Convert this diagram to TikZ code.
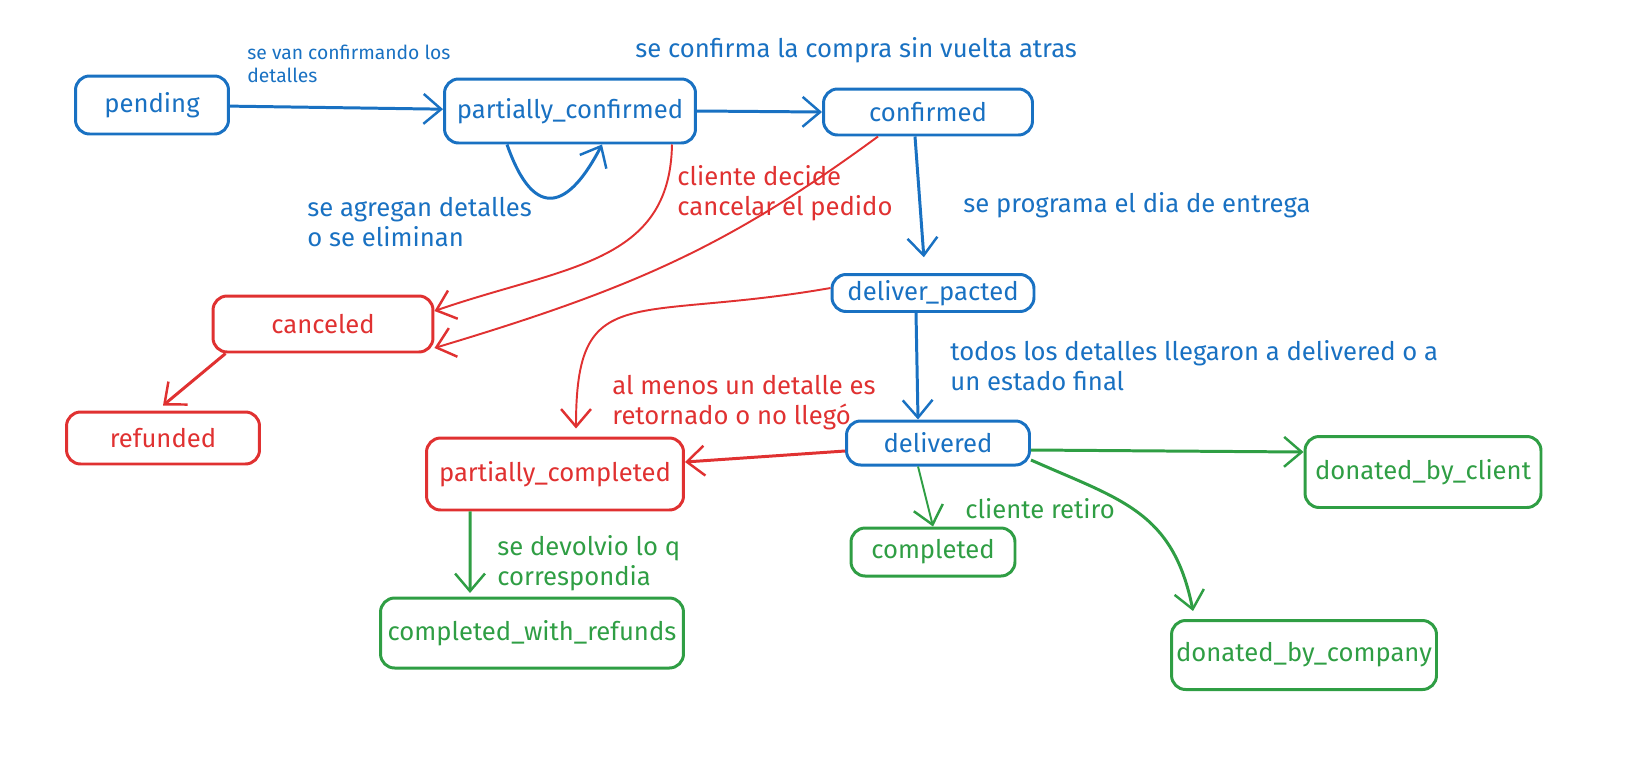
\documentclass[tikz,border=0pt]{standalone}
\usepackage{fontspec}
\setmainfont{Fira Sans}
\usetikzlibrary{arrows.meta}
\definecolor{sblue}{HTML}{1971C2}
\definecolor{sred}{HTML}{E03131}
\definecolor{sgreen}{HTML}{2F9E44}

\begin{document}
\begin{tikzpicture} [
	   x=0.02cm, y=-0.02cm,
	   every node/.style={font=\fontsize{14.6}{17}\selectfont},
	   state/.style    = { rectangle, draw, line width=1.7pt, rounded corners=8pt, inner sep=0pt },
	   line/.style     = { draw, line width=1.7pt, -{Straight Barb[length=10pt,width=17pt,line width=1.4pt]} },
	   thin line/.style = { line, line width=1.1pt },
	   note/.style     = { anchor=north west, align=left, inner sep=0pt },
	 ]
	 \useasboundingbox (0,0) rectangle (1645,768);

	 % states
	 \node [state, sblue, minimum width=3.06cm, minimum height=1.16cm] (pend) at (152,105) {pending};
	 \node [state, sblue, minimum width=5.02cm, minimum height=1.28cm] (pconf) at (570,111) {partially\_confirmed};
	 \node [state, sblue, minimum width=4.18cm, minimum height=0.92cm] (conf) at (928,112) {confirmed};
	 \node [state, sblue, minimum width=4.04cm, minimum height=0.74cm] (pact) at (933,293) {deliver\_pacted};
	 \node [state, sblue, minimum width=3.66cm, minimum height=0.88cm] (deliv) at (938,443) {delivered};
	 \node [state, sred, minimum width=4.40cm, minimum height=1.12cm] (canc) at (323,324) {canceled};
	 \node [state, sred, minimum width=3.86cm, minimum height=1.04cm] (refd) at (163,438) {refunded};
	 \node [state, sred, minimum width=5.14cm, minimum height=1.44cm] (pcomp) at (555,474) {partially\_completed};
	 \node [state, sgreen, minimum width=3.28cm, minimum height=0.96cm] (comp) at (933,552) {completed};
	 \node [state, sgreen, minimum width=6.06cm, minimum height=1.40cm] (cwr) at (532,633) {completed\_with\_refunds};
	 \node [state, sgreen, minimum width=4.72cm, minimum height=1.42cm] (dclient) at (1423,472) {donated\_by\_client};
	 \node [state, sgreen, minimum width=5.30cm, minimum height=1.38cm] (dcomp) at (1304,655) {donated\_by\_company};

	 % labels
	 \node [note, sblue, font=\fontsize{11}{13}\selectfont] (lconfirm) at (247,45) {se van confirmando los\\detalles};
	 \node [note, sblue] (lfinal) at (635,37) {se confirma la compra sin vuelta atras};
	 \node [note, sblue] (ledit) at (307,197) {se agregan detalles\\o se eliminan};
	 \node [note, sred] (lcancel) at (677,165) {cliente decide\\cancelar el pedido};
	 \node [note, sblue] (lday) at (963,192) {se programa el dia de entrega};
	 \node [note, sblue] (larrived) at (950,340) {todos los detalles llegaron a delivered o a\\un estado final};
	 \node [note, sred] (lreturn) at (612,375) {al menos un detalle es\\retornado o no llegó};
	 \node [note, sgreen] (lrefund) at (497,535) {se devolvio lo q\\correspondia};
	 \node [note, sgreen] (lpickup) at (965,498) {cliente retiro};

	 % connect all states
	 \begin{scope} [sblue]
		\path [line] (pend) -- (pconf);
		\path [line] (pconf.east) -- (conf.west);
		\path [line] ([xshift=-1.26cm]pconf.south) .. controls +(28,80) and +(-32,62) .. ([xshift=0.64cm]pconf.south);
		\path [line, shorten >=9pt] ([xshift=-0.26cm]conf.south) -- ([xshift=-0.16cm]pact.north);
		\path [line] ([xshift=-0.34cm]pact.south) -- ([xshift=-0.4cm]deliv.north);
	 \end{scope}
	 \begin{scope} [sred]
		\path [thin line] ([xshift=2.04cm]pconf.south) .. controls +(-2,120) and +(130,-45) .. ([yshift=0.26cm]canc.east);
		\path [thin line] ([xshift=-1cm]conf.south) .. controls +(-150,110) and +(200,-60) .. ([yshift=-0.48cm]canc.east);
		\path [thin line] ([yshift=0.1cm]pact.west) .. controls +(-200,35) and +(0,-150) .. ([xshift=0.42cm, yshift=0.16cm]pcomp.north);
		\path [line] ([yshift=-0.16cm]deliv.west) -- ([yshift=0.24cm]pcomp.east);
		\path [line] ([xshift=0.28cm]canc.south west) -- ([yshift=0.1cm]refd.north);
	 \end{scope}
	 \begin{scope} [sgreen]
		\path [line, shorten >=2pt] ([xshift=-1.7cm]pcomp.south) -- ([xshift=-1.24cm]cwr.north);
		\path [thin line] ([xshift=-0.4cm]deliv.south) -- (comp.north);
		\path [line] ([yshift=-0.14cm]deliv.east) -- ([yshift=0.4cm]dclient.west);
		\path [line] ([yshift=-0.34cm]deliv.east) .. controls +(90,40) and +(-20,-100) .. ([xshift=-2.22cm, yshift=0.16cm]dcomp.north);
	 \end{scope}
\end{tikzpicture}
\end{document}
